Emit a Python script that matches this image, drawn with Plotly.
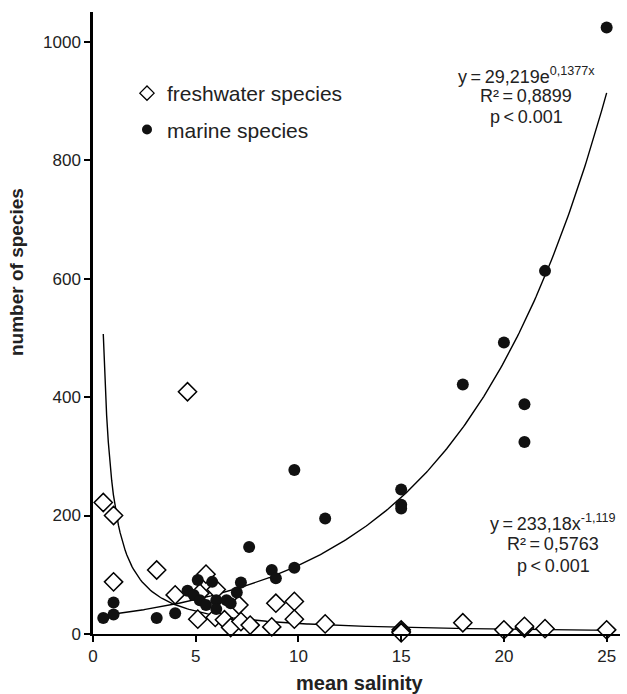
import numpy as np
import plotly.graph_objects as go

# Freshwater species (open diamonds)
fresh_x = [0.5, 1.0, 1.0, 3.1, 4.0, 4.6, 5.1, 5.2, 5.5, 6.0, 5.95, 6.4, 6.7, 7.1, 7.2, 7.65,
           8.7, 8.9, 9.8, 9.8, 11.3, 15, 15, 15, 18, 20, 21, 21, 22, 25]
fresh_y = [222, 200, 88, 108, 66, 409, 25, 69, 101, 75, 28, 24, 11, 49, 21, 15,
           12, 52, 55, 25, 17, 7, 4, 2, 19, 7, 10, 13, 9, 7]

# Marine species (filled circles)
marine_x = [0.5, 1.0, 1.0, 3.1, 4.0, 4.6, 4.9, 5.1, 5.2, 5.5, 5.8, 6.0, 6.0, 6.5, 6.7, 7.0,
            7.2, 7.6, 8.7, 8.9, 9.8, 9.8, 11.3, 15, 15, 15, 18, 20, 21, 21, 22, 25]
marine_y = [27, 53, 33, 27, 35, 73, 66, 91, 57, 49, 88, 57, 42, 57, 52, 70,
            87, 147, 108, 94, 112, 277, 195, 244, 218, 212, 421, 492, 388, 324, 613, 1024]

# Fitted trend lines (coefficients printed on the chart)
exp_a, exp_b = 29.219, 0.1377
pow_a, pow_b = 233.18, -1.119
fit_x = np.linspace(0.5, 25, 300)

x_ticks = [0, 5, 10, 15, 20, 25]
y_ticks = [0, 200, 400, 600, 800, 1000]

exp_lines = ["y\u2009=\u200929,219e<sup>0,1377x</sup>", "R²\u2009=\u20090,8899", "p\u2009<\u20090.001"]
pow_lines = ["y\u2009=\u2009233,18x<sup>-1,119</sup>", "R²\u2009=\u20090,5763", "p\u2009<\u20090.001"]

FONT = "Liberation Sans, Arial, sans-serif"
TXT = "#222222"

fig = go.Figure()
fig.add_trace(go.Scatter(x=fit_x, y=exp_a * np.exp(exp_b * fit_x), mode="lines",
                         line=dict(color="black", width=1.4), showlegend=False, hoverinfo="skip"))
fig.add_trace(go.Scatter(x=fit_x, y=pow_a * fit_x ** pow_b, mode="lines",
                         line=dict(color="black", width=1.4), showlegend=False, hoverinfo="skip"))
fig.add_trace(go.Scatter(x=fresh_x, y=fresh_y, mode="markers", name="freshwater species",
                         showlegend=False,
                         marker=dict(symbol="diamond", size=14, color="white",
                                     line=dict(color="black", width=1.5)),
                         cliponaxis=False))
fig.add_trace(go.Scatter(x=marine_x, y=marine_y, mode="markers", name="marine species",
                         showlegend=False,
                         marker=dict(symbol="circle", size=12, color="#111111",
                                     line=dict(color="#111111", width=0)),
                         cliponaxis=False))
# legend entries (smaller symbols, as in the reference legend)
fig.add_trace(go.Scatter(x=[None], y=[None], mode="markers", name="freshwater species",
                         legendgroup="f",
                         marker=dict(symbol="diamond", size=11, color="white",
                                     line=dict(color="black", width=1.3))))
fig.add_trace(go.Scatter(x=[None], y=[None], mode="markers", name="marine species",
                         legendgroup="m",
                         marker=dict(symbol="circle", size=10, color="#111111")))

fig.update_layout(
    width=627, height=694,
    margin=dict(l=93, r=7, t=12, b=60),
    paper_bgcolor="white", plot_bgcolor="white",
    font=dict(family=FONT, size=17, color=TXT),
    showlegend=True,
    legend=dict(x=(127 - 93) / 527, y=(634 - 73) / 622, xanchor="left", yanchor="top",
                font=dict(family=FONT, size=21, color=TXT),
                bgcolor="rgba(0,0,0,0)", traceorder="grouped", tracegroupgap=6,
                itemwidth=30),
    xaxis=dict(range=[0, 25.65], tickvals=x_ticks, showgrid=False, zeroline=False,
               showline=True, linecolor="black", linewidth=2,
               ticks="outside", ticklen=6, tickwidth=1.5, tickcolor="black",
               tickfont=dict(size=17, family=FONT, color=TXT)),
    yaxis=dict(range=[0, 1050], tickvals=y_ticks, showgrid=False, zeroline=False,
               showline=True, linecolor="black", linewidth=2.5,
               ticks="outside", ticklen=6, tickwidth=1.5, tickcolor="black",
               tickfont=dict(size=17, family=FONT, color=TXT)),
)

def px_to_paper_x(px):
    return (px - 93) / 527

def px_to_paper_y(py):
    return (634 - py) / 622

annot_font = dict(family=FONT, size=18, color=TXT)
for i, line in enumerate(exp_lines):
    fig.add_annotation(text=line, x=px_to_paper_x(526), y=px_to_paper_y(75 + 21 * i),
                       xref="paper", yref="paper", xanchor="center", yanchor="middle",
                       showarrow=False, font=annot_font)
for i, line in enumerate(pow_lines):
    fig.add_annotation(text=line, x=px_to_paper_x(553), y=px_to_paper_y(522 + 22 * i),
                       xref="paper", yref="paper", xanchor="center", yanchor="middle",
                       showarrow=False, font=annot_font)
fig.add_annotation(text="<b>number of species</b>", textangle=-90,
                   x=px_to_paper_x(16), y=px_to_paper_y(272), xref="paper", yref="paper",
                   xanchor="center", yanchor="middle", showarrow=False,
                   font=dict(family=FONT, size=19, color=TXT))
fig.add_annotation(text="<b>mean salinity</b>",
                   x=px_to_paper_x(360), y=px_to_paper_y(683), xref="paper", yref="paper",
                   xanchor="center", yanchor="middle", showarrow=False,
                   font=dict(family=FONT, size=20, color=TXT))

fig.write_html("out.html")
